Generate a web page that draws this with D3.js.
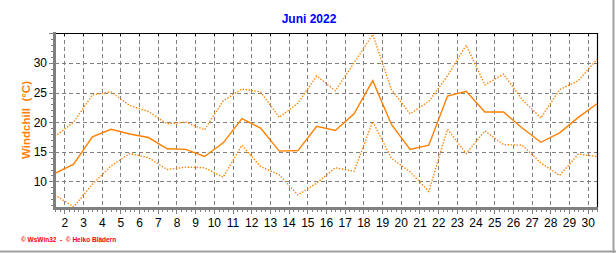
<!DOCTYPE html>
<html><head><meta charset="utf-8">
<script src="https://cdn.jsdelivr.net/npm/d3@7"></script>
<style>
html,body{margin:0;padding:0;background:#fff;}
svg{display:block;}
</style></head>
<body>
<script>
const days = d3.range(1, 31);
const maxVals = [17.6,20.0,24.6,25.1,22.8,21.8,19.7,20.0,18.7,23.6,25.6,25.1,20.8,23.2,27.8,25.3,30.0,34.8,25.5,21.4,23.5,27.8,33.0,26.3,28.1,23.8,20.7,25.5,27.0,30.6];
const meanVals = [11.35,12.9,17.5,18.8,18.0,17.4,15.5,15.4,14.2,16.5,20.6,19.0,15.1,15.2,19.3,18.6,21.4,27.0,19.6,15.4,16.1,24.4,25.2,21.7,21.7,19.0,16.6,18.2,20.8,23.1];
const minVals = [7.7,5.7,9.5,12.6,14.7,14.0,12.0,12.4,12.3,10.7,16.1,12.5,11.1,7.7,9.7,12.3,11.7,20.1,13.9,11.6,8.3,18.8,14.7,18.5,16.2,16.1,13.1,11.0,14.6,14.2];
const yTicks = [10, 15, 20, 25, 30];
const xTickLabels = d3.range(2, 31);
const title = "Juni 2022";
const yLabel = "Windchill  (°C)";
const footer = "© WsWin32  -  © Heiko Blädern";

const W = 616, H = 253;
const L = 55, R = 597, T = 33, B = 208;
const orange = "#FF8000";

const svg = d3.select("body").append("svg").attr("width", W).attr("height", H)
  .style("font-family", "Arial, 'Liberation Sans', sans-serif");

// day d (noon) sits at d + 0.5, gridlines at day starts
const x = d3.scaleLinear().domain([1.5, 30.5]).range([L, R]);
const y = d3.scaleLinear().domain([5.5, 35.05]).range([B, T]);

// page border (right / bottom gray)
svg.append("line").attr("x1", W-2.5).attr("x2", W-2.5).attr("y1", 0).attr("y2", H)
  .attr("stroke", "#a0a0a0").attr("stroke-width", 2);
svg.append("line").attr("x1", 0).attr("x2", W).attr("y1", H-1.5).attr("y2", H-1.5)
  .attr("stroke", "#a0a0a0").attr("stroke-width", 2);

// grid
const grid = svg.append("g");
grid.selectAll("line.v").data(xTickLabels).enter().append("line")
  .attr("x1", d => Math.round(x(d)) + 0.5).attr("x2", d => Math.round(x(d)) + 0.5)
  .attr("y1", T).attr("y2", B)
  .attr("stroke", "#808080").attr("stroke-dasharray", "4,3");
grid.selectAll("line.h").data(yTicks).enter().append("line")
  .attr("x1", L).attr("x2", R)
  .attr("y1", d => Math.round(y(d)) + 0.5).attr("y2", d => Math.round(y(d)) + 0.5)
  .attr("stroke", "#808080").attr("stroke-dasharray", "4,3");

// top & right border
svg.append("line").attr("x1", L).attr("x2", R + 0.5).attr("y1", T + 0.5).attr("y2", T + 0.5)
  .attr("stroke", "#000").attr("stroke-width", 1.2);
svg.append("line").attr("x1", R + 0.5).attr("x2", R + 0.5).attr("y1", T).attr("y2", B)
  .attr("stroke", "#000").attr("stroke-width", 1.2);
svg.append("g").selectAll("line").data(xTickLabels).enter().append("line")
  .attr("x1", d => Math.round(x(d)) + 0.5).attr("x2", d => Math.round(x(d)) + 0.5)
  .attr("y1", T).attr("y2", T + 3).attr("stroke", "#000");

// lines
const pts = vals => vals.map((v, i) => [days[i] + 0.5, v]);
const lg = d3.line().x(d => x(d[0])).y(d => y(d[1]));
svg.append("clipPath").attr("id", "c").append("rect")
  .attr("x", L).attr("y", T).attr("width", R - L + 1).attr("height", B - T);
const gl = svg.append("g").attr("clip-path", "url(#c)");
gl.append("path").attr("d", lg(pts(maxVals))).attr("fill", "none")
  .attr("stroke", orange).attr("stroke-width", 1.4).attr("stroke-dasharray", "1.4,1.6");
gl.append("path").attr("d", lg(pts(minVals))).attr("fill", "none")
  .attr("stroke", orange).attr("stroke-width", 1.4).attr("stroke-dasharray", "1.4,1.6");
gl.append("path").attr("d", lg(pts(meanVals))).attr("fill", "none")
  .attr("stroke", orange).attr("stroke-width", 1.4);

// left & bottom axis (gray thick)
svg.append("line").attr("x1", L - 0.5).attr("x2", L - 0.5).attr("y1", T - 1).attr("y2", B + 1.5)
  .attr("stroke", "#808080").attr("stroke-width", 3);
svg.append("line").attr("x1", L - 2).attr("x2", R + 1).attr("y1", B + 0.5).attr("y2", B + 0.5)
  .attr("stroke", "#808080").attr("stroke-width", 3);

// y ticks
const yMinor = d3.range(6, 36);
svg.append("g").selectAll("line").data(yMinor).enter().append("line")
  .attr("x1", d => L - 2 - (d % 5 === 0 ? 4 : 2)).attr("x2", L - 2)
  .attr("y1", d => Math.round(y(d)) + 0.5).attr("y2", d => Math.round(y(d)) + 0.5)
  .attr("stroke", "#808080");
svg.append("g").selectAll("text").data(yTicks).enter().append("text")
  .attr("x", 47).attr("y", d => y(d) + 4.5).attr("text-anchor", "end")
  .attr("font-size", 12).attr("fill", "#000").text(d => d);

// x ticks
const xMinor = d3.range(1.5, 30.51, 0.25);
svg.append("g").selectAll("line").data(xMinor).enter().append("line")
  .attr("x1", d => Math.round(x(d)) + 0.5).attr("x2", d => Math.round(x(d)) + 0.5)
  .attr("y1", B + 2).attr("y2", d => B + 2 + (Number.isInteger(d) ? 4 : 2))
  .attr("stroke", "#808080");
svg.append("g").selectAll("text").data(xTickLabels).enter().append("text")
  .attr("x", d => x(d) + 0.5).attr("y", 227).attr("text-anchor", "middle")
  .attr("font-size", 12).attr("fill", "#000").text(d => d);

// title
svg.append("text").attr("x", 309).attr("y", 23).attr("text-anchor", "middle")
  .attr("font-size", 12).attr("font-weight", "bold").attr("fill", "#0000FF").text(title);

// y label
svg.append("text").attr("transform", "translate(30,120) rotate(-90)")
  .attr("text-anchor", "middle").attr("font-size", 11.5).attr("font-weight", "bold")
  .attr("fill", orange).attr("xml:space", "preserve").style("white-space", "pre").text(yLabel);

// footer
svg.append("text").attr("x", 21).attr("y", 242).attr("font-size", 6.5)
  .attr("font-weight", "bold").attr("fill", "#FF0000").attr("xml:space", "preserve")
  .style("white-space", "pre").text(footer);
</script>
</body></html>
